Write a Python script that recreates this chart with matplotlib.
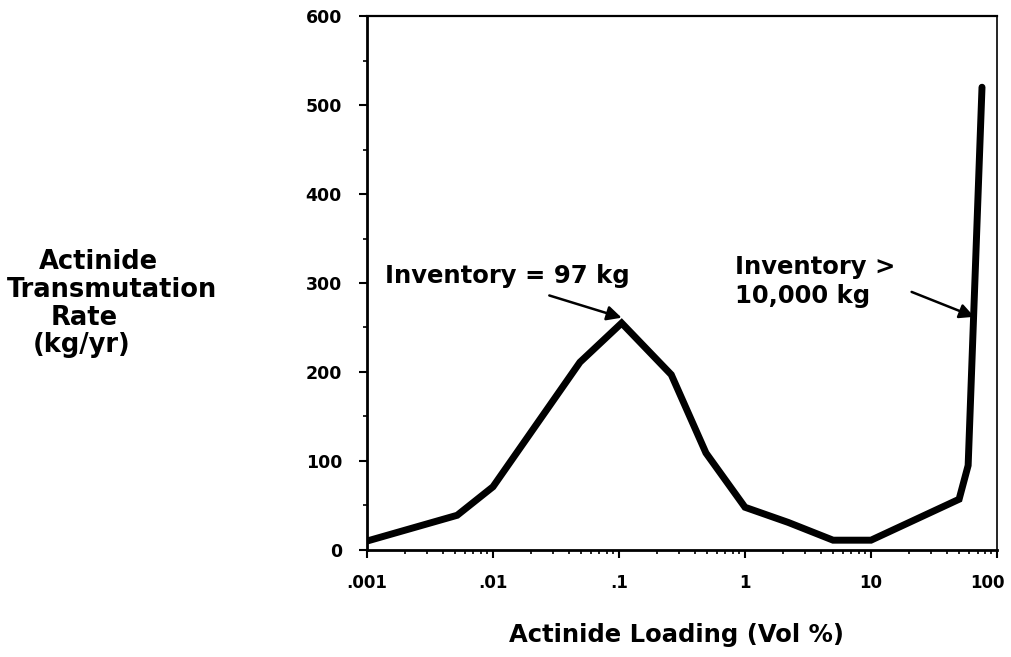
import matplotlib.pyplot as plt
import matplotlib.transforms as mtransforms
from matplotlib.ticker import LogLocator, MultipleLocator, FixedLocator, FixedFormatter

# actinide loading (vol %) vs transmutation rate (kg/yr)
loading = [0.001, 0.0052, 0.01, 0.049, 0.105, 0.26, 0.49, 1.0, 2.2, 5.0, 10.0, 50.0, 59.0, 76.0]
rate = [10, 39, 71, 211, 255, 197, 109, 48, 31, 11, 11, 57, 95, 520]

x_ticks = [0.001, 0.01, 0.1, 1, 10, 100]
x_ticklabels = ['.001', '.01', '.1', '1', '10', '100']
y_ticks = [0, 100, 200, 300, 400, 500, 600]

plt.rcParams['font.family'] = ['DejaVu Sans']
plt.rcParams['font.weight'] = 'bold'

fig = plt.figure(figsize=(10.12, 6.57), dpi=100)
ax = fig.add_axes([0.3626, 0.1629, 0.6226, 0.8127])

ax.plot(loading, rate, color='black', lw=5, solid_joinstyle='miter', solid_capstyle='round')

ax.set_xscale('log')
ax.set_xlim(0.001, 100)
ax.set_ylim(0, 600)

ax.xaxis.set_major_locator(FixedLocator(x_ticks))
ax.xaxis.set_major_formatter(FixedFormatter(x_ticklabels))
ax.xaxis.set_minor_locator(LogLocator(base=10, subs=range(2, 10)))
ax.yaxis.set_major_locator(FixedLocator(y_ticks))
ax.yaxis.set_minor_locator(MultipleLocator(50))

ax.tick_params(axis='both', which='major', labelsize=12.5, width=1.5, length=6,
               direction='out')
ax.tick_params(axis='x', which='major', labelsize=12, pad=11)
ax.tick_params(axis='y', which='major', pad=12)
ax.tick_params(axis='both', which='minor', width=1.2, length=3, direction='out')
ax.tick_params(top=False, right=False, which='both')
for lbl in ax.get_xticklabels() + ax.get_yticklabels():
    lbl.set_fontweight('bold')

# keep the last x label inside the figure
last = ax.get_xticklabels()[-1]
last.set_transform(last.get_transform() +
                   mtransforms.ScaledTranslation(-10 / 100, 0, fig.dpi_scale_trans))

ax.spines['left'].set_linewidth(2)
ax.spines['bottom'].set_linewidth(2)
ax.spines['top'].set_linewidth(1.6)
ax.spines['right'].set_linewidth(1.2)

# peak annotation
ax.text(0.00138, 308, 'Inventory = 97 kg', fontsize=17.5, fontweight='bold',
        ha='left', va='center')
ax.annotate('', xy=(0.105, 261), xytext=(0.028, 286),
            arrowprops=dict(arrowstyle='-|>', color='black', lw=1.8,
                            mutation_scale=22, shrinkA=0, shrinkB=0))

# high-loading annotation
ax.text(0.84, 302, 'Inventory >\n10,000 kg', fontsize=17.5, fontweight='bold',
        ha='left', va='center', linespacing=1.25)
ax.annotate('', xy=(66, 262), xytext=(21, 290),
            arrowprops=dict(arrowstyle='-|>', color='black', lw=1.8,
                            mutation_scale=22, shrinkA=0, shrinkB=0))

fig.text(0.668, 0.034, 'Actinide Loading (Vol %)', fontsize=17.5, fontweight='bold',
         ha='center', va='center')

# y-axis title, one line at a time
ylabel_lines = ['Actinide', 'Transmutation', 'Rate', '(kg/yr)']
ylabel_x = [98, 112, 84, 82]
ylabel_y = [262, 290, 318, 345]
for s, px, py in zip(ylabel_lines, ylabel_x, ylabel_y):
    fig.text(px / 1012, 1 - py / 657, s, fontsize=18.5, fontweight='bold',
             ha='center', va='center')

fig.savefig('out.png', dpi=100)
